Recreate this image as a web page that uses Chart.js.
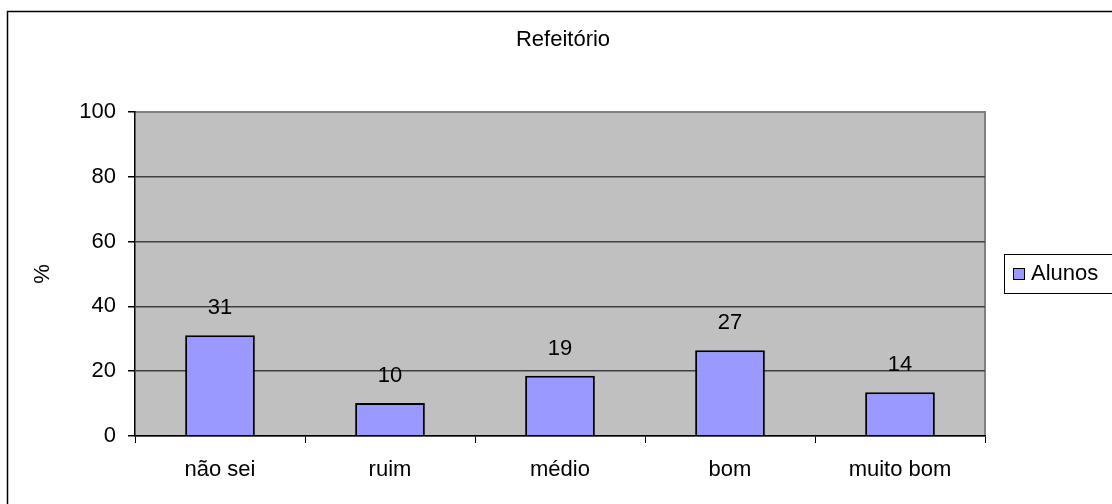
<!DOCTYPE html>
<html>
<head>
<meta charset="utf-8">
<script src="https://cdn.jsdelivr.net/npm/chart.js@4/dist/chart.umd.min.js"></script>
<style>
  html, body { margin: 0; padding: 0; background: #fff; }
  #wrap { width: 1112px; height: 504px; }
</style>
</head>
<body>
<div id="wrap"><canvas id="chart"></canvas></div>
<script>
// Chart data
const categories = ['não sei', 'ruim', 'médio', 'bom', 'muito bom'];
const alunos = [31.1, 10.2, 18.6, 26.5, 13.5];
const seriesLabel = 'Alunos';
const chartTitle = 'Refeitório';
const yTitle = '%';
const yTicks = [0, 20, 40, 60, 80, 100];

const FONT = '"Liberation Sans", Arial, sans-serif';
const FSIZE = 22;

// Background, border, title, legend and value labels
const decorPlugin = {
    id: 'decor',
    beforeDraw(chart) {
        const { ctx, chartArea: a } = chart;
        ctx.save();
        ctx.fillStyle = '#fff';
        ctx.fillRect(0, 0, chart.width, chart.height);
        // outer frame (cut off right/bottom)
        ctx.strokeStyle = '#000';
        ctx.lineWidth = 1.5;
        ctx.strokeRect(7.5, 11.5, chart.width + 20, chart.height + 20);
        // plot area
        ctx.fillStyle = '#c0c0c0';
        ctx.fillRect(a.left, a.top, a.right - a.left, a.bottom - a.top);
        ctx.strokeStyle = '#808080';
        ctx.lineWidth = 2;
        ctx.beginPath();
        ctx.moveTo(a.left, a.top);
        ctx.lineTo(a.right, a.top);
        ctx.lineTo(a.right, a.bottom);
        ctx.stroke();
        // title
        ctx.fillStyle = '#000';
        ctx.font = '22px ' + FONT;
        ctx.textAlign = 'center';
        ctx.textBaseline = 'middle';
        ctx.fillText(chartTitle, 563, 40);
        ctx.restore();
    },
    afterDatasetsDraw(chart) {
        const { ctx } = chart;
        const meta = chart.getDatasetMeta(0);
        ctx.save();
        ctx.fillStyle = '#000';
        ctx.font = FSIZE + 'px ' + FONT;
        ctx.textAlign = 'center';
        ctx.textBaseline = 'middle';
        meta.data.forEach((bar, i) => {
            ctx.fillText(String(Math.round(alunos[i])), bar.x, bar.y - 27);
        });
        // legend
        ctx.fillStyle = '#fff';
        ctx.fillRect(1004, 254, 120, 39);
        ctx.strokeStyle = '#000';
        ctx.lineWidth = 1;
        ctx.strokeRect(1004.5, 254.5, 120, 39);
        ctx.fillStyle = '#9999ff';
        ctx.fillRect(1013, 268, 12, 12);
        ctx.strokeRect(1013.5, 268.5, 11, 11);
        ctx.fillStyle = '#000';
        ctx.textAlign = 'left';
        ctx.fillText(seriesLabel, 1031, 274);
        ctx.restore();
    }
};

new Chart(document.getElementById('chart'), {
    type: 'bar',
    data: {
        labels: categories,
        datasets: [{
            label: seriesLabel,
            data: alunos,
            backgroundColor: '#9999ff',
            borderColor: '#000',
            borderWidth: 2,
            barPercentage: 0.41,
            categoryPercentage: 1
        }]
    },
    options: {
        responsive: true,
        maintainAspectRatio: false,
        animation: false,
        layout: { padding: { left: 30, top: 112, right: 127, bottom: 0 } },
        plugins: {
            legend: { display: false },
            tooltip: { enabled: false }
        },
        scales: {
            x: {
                afterFit(scale) { scale.height = 68; },
                grid: {
                    offset: true,
                    drawOnChartArea: false,
                    color: '#000',
                    tickLength: 7
                },
                border: { color: '#000', width: 1.5 },
                ticks: { color: '#000', padding: 14, font: { family: FONT, size: FSIZE } }
            },
            y: {
                min: 0,
                max: 100,
                afterFit(scale) { scale.width = 105; },
                afterBuildTicks(scale) { scale.ticks = yTicks.map(v => ({ value: v })); },
                grid: {
                    color: ctx => (ctx.tick && ctx.tick.value === 100) ? '#808080' : '#404040',
                    lineWidth: 1.5,
                    tickLength: 7,
                    tickColor: '#000'
                },
                border: { color: '#000', width: 1.5 },
                ticks: { color: '#000', padding: 12, font: { family: FONT, size: FSIZE } },
                title: {
                    display: true,
                    text: yTitle,
                    color: '#000',
                    font: { family: FONT, size: FSIZE },
                    padding: 0
                }
            }
        }
    },
    plugins: [decorPlugin]
});
</script>
</body>
</html>
